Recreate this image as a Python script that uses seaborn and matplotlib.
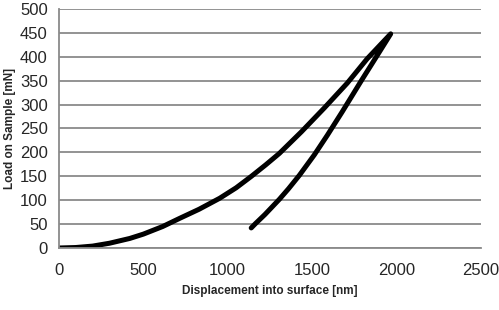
import seaborn as sns
import matplotlib.pyplot as plt
import pandas as pd

# loading / unloading branches
load_h = [0, 100, 200, 300, 420, 500, 615, 715, 830, 952, 1050, 1140, 1225, 1306, 1436, 1572, 1708, 1826, 1965]
load_p = [0, 1, 4, 10, 20, 29, 45, 62, 81, 104, 126, 150, 174, 198, 243, 293, 345, 396, 448]
unload_h = [1965, 1880, 1791, 1678, 1590, 1513, 1424, 1360, 1306, 1220, 1164, 1139]
unload_p = [448, 400, 350, 285, 236, 195, 152, 124, 102, 70, 51, 42]

x_ticks = [0, 500, 1000, 1500, 2000, 2500]
y_ticks = [0, 50, 100, 150, 200, 250, 300, 350, 400, 450, 500]

df = pd.DataFrame({"h": load_h + unload_h, "P": load_p + unload_p})

sns.set_style("white")
plt.rcParams["font.family"] = ["Liberation Sans", "DejaVu Sans"]

f = plt.figure(figsize=(4.99, 3.10), dpi=100)
ax = f.add_axes([0.118, 0.2, 0.846, 0.771])

# one continuous path: loading up to peak, then unloading
sns.lineplot(data=df, x="h", y="P", sort=False, estimator=None, color="black",
             lw=3.6, solid_capstyle="round", solid_joinstyle="round", ax=ax)

ax.set_xlim(0, 2500)
ax.set_ylim(0, 500)
ax.set_xticks(x_ticks)
ax.set_yticks(y_ticks)
ax.yaxis.grid(True, color="#8a8a8a", lw=1.3)
ax.set_axisbelow(True)
ax.tick_params(axis="both", labelsize=12, direction="out", length=5,
               width=1.2, color="#8a8a8a", pad=3)
ax.tick_params(axis="x", pad=6)
for s in ["top", "right"]:
    ax.spines[s].set_visible(False)
for s in ["left", "bottom"]:
    ax.spines[s].set_color("#8a8a8a")
    ax.spines[s].set_linewidth(1.3)

ax.set_xlabel("Displacement into surface [nm]", fontsize=8.5, fontweight="bold", labelpad=5)
ax.set_ylabel("Load on Sample [mN]", fontsize=8.5, fontweight="bold", labelpad=3)

f.savefig("out.png", dpi=100)
